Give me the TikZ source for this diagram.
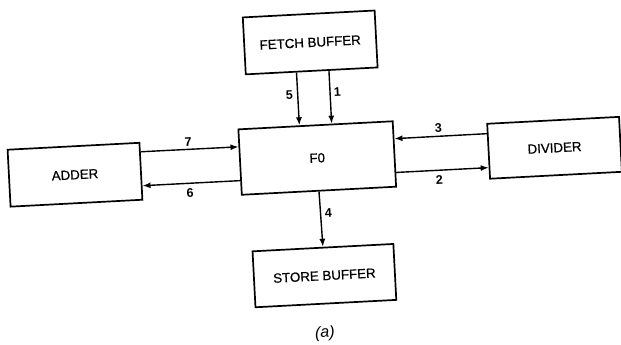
\documentclass[tikz,border=0pt]{standalone}
\usepackage{fontspec}
\setmainfont{Liberation Sans}
\newfontfamily\blkfont[FakeBold=0.6]{Liberation Sans}
\usetikzlibrary{arrows.meta,calc}
\begin{document}
\begin{tikzpicture}[x=1pt,y=1pt,
  blk/.style={draw, line width=1.7pt, inner sep=0pt, font=\blkfont\fontsize{13.3}{15}\selectfont},
  arr/.style={line width=1.4pt, -{Latex[length=8pt,width=6pt]}},
  lbl/.style={inner sep=0pt, font=\fontsize{12.5}{14}\selectfont\bfseries}]
\fill[white] (0,0) rectangle (621,-345);
\useasboundingbox (0,0) rectangle (621,-345);
\begin{scope}[rotate around={3:(310.5,-172.5)}, transform shape]
  \node[blk, minimum width=132pt, minimum height=57pt] (fetch) at (317,-42.6) {FETCH BUFFER};
  \node[blk, minimum width=154.5pt, minimum height=65.5pt] (f0) at (318,-158.4) {F0};
  \node[blk, minimum width=132pt, minimum height=57pt] (adder) at (75.2,-162.4) {ADDER};
  \node[blk, minimum width=132pt, minimum height=55pt] (divider) at (555.5,-160.6) {DIVIDER};
  \node[blk, minimum width=141pt, minimum height=56pt] (store) at (319,-276.2) {STORE BUFFER};

  % vertical connectors
  \draw[arr] ($(fetch.south west)!0.386!(fetch.south east)$) -- ($(f0.north west)!0.3965!(f0.north east)$);
  \draw[arr] ($(fetch.south west)!0.629!(fetch.south east)$) -- ($(f0.north west)!0.6035!(f0.north east)$);
  \draw[arr] (f0.south) -- (store.north);
  % horizontal connectors
  \draw[arr] ($(adder.north east)!0.168!(adder.south east)$) -- ($(f0.north west)!0.2725!(f0.south west)$);
  \draw[arr] ($(f0.north west)!0.776!(f0.south west)$) -- ($(adder.north east)!0.747!(adder.south east)$);
  \draw[arr] ($(divider.north west)!0.189!(divider.south west)$) -- ($(f0.north east)!0.2725!(f0.south east)$);
  \draw[arr] ($(f0.north east)!0.776!(f0.south east)$) -- ($(divider.north west)!0.789!(divider.south west)$);

  % labels
  \node[lbl] (l5) at (293.4,-94) {5};
  \node[lbl] (l1) at (341.5,-93.2) {1};
  \node[lbl] (l7) at (189.8,-135.3) {7};
  \node[lbl] (l6) at (189.1,-187) {6};
  \node[lbl] (l3) at (440.5,-134.4) {3};
  \node[lbl] (l2) at (438.7,-186.7) {2};
  \node[lbl] (l4) at (326.1,-214.2) {4};
  \node[inner sep=0pt, font=\fontsize{16}{18}\selectfont\itshape] (cap) at (316.4,-334) {(a)};
\end{scope}
\end{tikzpicture}
\end{document}
